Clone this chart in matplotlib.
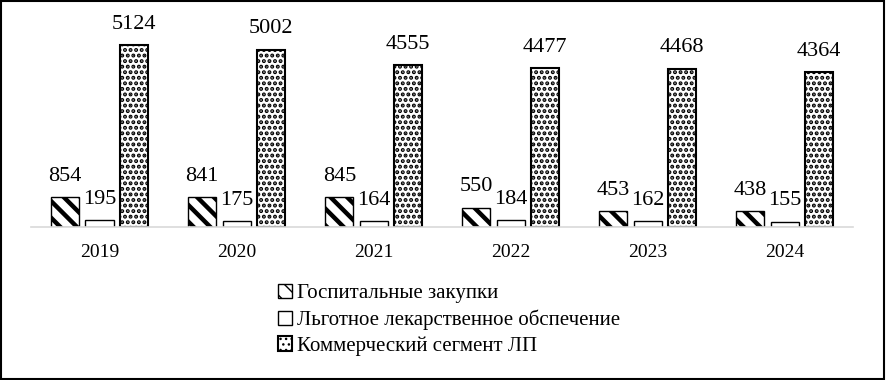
import numpy as np
import matplotlib
matplotlib.use("Agg")
from matplotlib import pyplot as plt
from matplotlib.patches import Rectangle

# Data
years = ["2019", "2020", "2021", "2022", "2023", "2024"]
hospital = [854, 841, 845, 550, 453, 438]
preferential = [195, 175, 164, 184, 162, 155]
commercial = [5124, 5002, 4555, 4477, 4468, 4364]
series_names = ["Госпитальные закупки",
                "Льготное лекарственное обспечение",
                "Коммерческий сегмент ЛП"]

plt.rcParams['font.family'] = ['Liberation Serif', 'DejaVu Serif']

fig = plt.figure(figsize=(8.86, 3.80), dpi=100)
ax = fig.add_axes([0.035, 0.4026, 0.928, 0.56])

x = np.arange(len(years))
w = 0.205
off = 0.25

with plt.rc_context({'hatch.linewidth': 3.2}):
    b1 = ax.bar(x - off, hospital, w, color="white", edgecolor="black",
                linewidth=1.0, hatch="\\\\", label=series_names[0])
b2 = ax.bar(x, preferential, w, color="white", edgecolor="black",
            linewidth=1.0, label=series_names[1])
with plt.rc_context({'hatch.linewidth': 2.0}):
    b3 = ax.bar(x + off, commercial, w, color="white", edgecolor="black",
                linewidth=1.5, hatch="...", label=series_names[2])

for b in (b1, b2, b3):
    ax.bar_label(b, padding=8, fontsize=16)

ax.set_xlim(-0.5, len(years) - 0.5)
ax.set_ylim(0, 6000)
ax.set_xticks(x)
ax.set_xticklabels(years, fontsize=14)
ax.tick_params(axis='x', length=0, pad=12)
ax.set_yticks([])
for s in ["top", "right", "left"]:
    ax.spines[s].set_visible(False)
ax.spines["bottom"].set_color("#d9d9d9")
ax.spines["bottom"].set_linewidth(1.2)

fig.legend(loc="upper left", bbox_to_anchor=(0.304, 0.275), frameon=False,
           fontsize=15, handlelength=0.7, handleheight=0.7,
           handletextpad=0.25, labelspacing=0.3, borderaxespad=0)

# frame around the whole figure
fig.patches.append(Rectangle((0.001, 0.002), 0.997, 0.995,
                             transform=fig.transFigure, fill=False,
                             edgecolor="black", linewidth=1.5))

fig.savefig("out.png", dpi=100)
